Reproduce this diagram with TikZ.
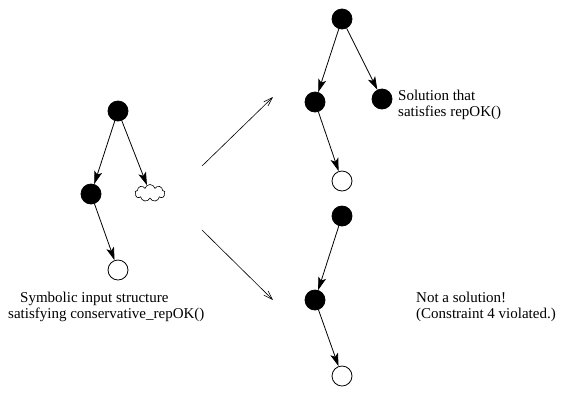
\documentclass[tikz,border=0pt]{standalone}
\usepackage{fontspec}
\setmainfont{Liberation Serif}
\usetikzlibrary{arrows.meta,shapes.symbols}

\begin{document}
\begin{tikzpicture}[
	x=1pt, y=-1pt,
	every node/.style = {font=\fontsize{15}{17}\selectfont},
	full/.style = {circle, draw, line width=0.8pt, fill=black, minimum size=20pt, inner sep=0pt},
	empty/.style = {circle, draw, line width=0.8pt, fill=white, minimum size=20pt, inner sep=0pt},
	link/.style = {-{Stealth[length=13pt, width=8pt, inset=3pt]}, line width=0.8pt},
	move/.style = {-{Straight Barb[length=9pt, width=6pt]}, line width=0.6pt},
	caption/.style = {anchor=base west, inner sep=0pt},
]
	\useasboundingbox (0,0) rectangle (561,392);

	% symbolic input structure
	\node [full] (s1) at (118,111) {};
	\node [full] (s2) at (91,194) {};
	\node [cloud, draw, line width=0.6pt, cloud puffs=9, aspect=1.8, minimum width=30pt, minimum height=17pt, inner sep=0pt] (sc) at (150,193) {};
	\node [empty] (s3) at (118,270) {};

	% solution
	\node [full] (a1) at (342,19) {};
	\node [full] (a2) at (315,102) {};
	\node [full] (a3) at (382,99) {};
	\node [empty] (a4) at (342,181) {};

	% not a solution
	\node [full] (b1) at (342,216) {};
	\node [full] (b2) at (315,300) {};
	\node [empty] (b3) at (342,376) {};

	\foreach \from/\to in {s1/s2, s1/sc, s2/s3, a1/a2, a1/a3, a2/a4, b1/b2, b2/b3}{
		\draw [link] (\from) -- (\to);
	}

	% the two outcomes
	\coordinate (up0) at (202,166);
	\coordinate (up1) at (273,97);
	\coordinate (dn0) at (202,230);
	\coordinate (dn1) at (273,300);
	\draw [move] (up0) -- (up1);
	\draw [move] (dn0) -- (dn1);

	\node [caption] (t1) at (20,302) {Symbolic input structure};
	\node [caption] (t2) at (8,318) {satisfying conservative\_repOK()};
	\node [caption] (t3) at (398,100) {Solution that};
	\node [caption] (t4) at (398,116) {satisfies repOK()};
	\node [caption] (t5) at (416,302) {Not a solution!};
	\node [caption] (t6) at (416,318) {(Constraint 4 violated.)};
\end{tikzpicture}
\end{document}
